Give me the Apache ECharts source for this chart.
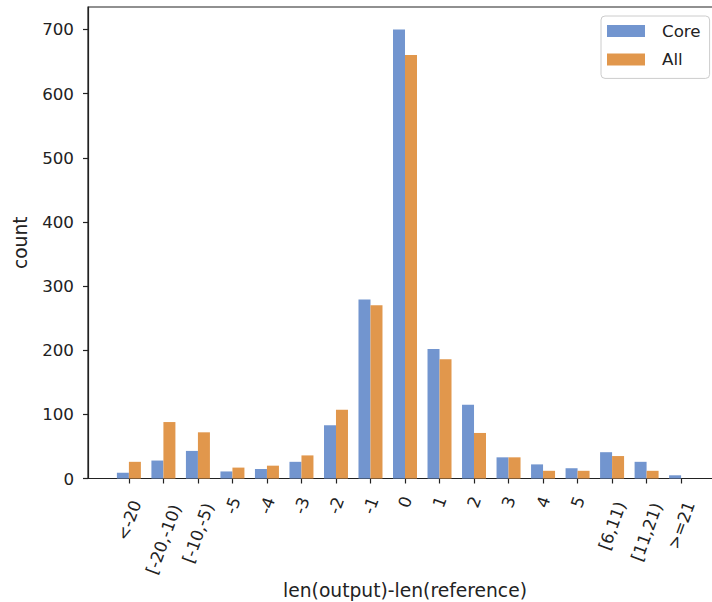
<!DOCTYPE html>
<html>
<head>
<meta charset="utf-8">
<script src="https://cdn.jsdelivr.net/npm/echarts@6/dist/echarts.min.js"></script>
<style>
html,body{margin:0;padding:0;background:#fff;}
#chart{width:712px;height:602px;}
</style>
</head>
<body>
<div id="chart"></div>
<script>
const categories = ["<-20","[-20,-10)","[-10,-5)","-5","-4","-3","-2","-1","0","1","2","3","4","5","[6,11)","[11,21)",">=21"];
const coreValues = [9, 28, 43, 11, 15, 26, 83, 279, 700, 202, 115, 33, 22, 16, 41, 26, 5];
const allValues  = [26, 88, 72, 17, 20, 36, 107, 270, 660, 186, 71, 33, 12, 12, 35, 12, 0];
const yTicks = [0, 100, 200, 300, 400, 500, 600, 700];
const seriesNames = ["Core", "All"];
const xTitle = "len(output)-len(reference)";
const yTitle = "count";

const FONT = '"DejaVu Sans", sans-serif';
const FS = 16.7;      // tick / legend text
const FS_T = 18.7;    // axis titles
const TXT = '#222';
const AX = '#222';

// matplotlib-like x limits: bars span [-0.35, n-1+0.35], plus 5% margins
const half = 0.35;
const span = (categories.length - 1) + 2 * half;
const xMin = -half - 0.05 * span;
const xMax = (categories.length - 1) + half + 0.05 * span;

// rotated tick labels: centre of each label placed below its tick (matplotlib style)
const ctx = document.createElement('canvas').getContext('2d');
ctx.font = FS + 'px ' + FONT;
const rad = 70 * Math.PI / 180;
const lh = 18;
const rich = {};
categories.forEach((c, i) => {
  const L = ctx.measureText(c).width;
  const D = 0.6 * L;                 // downward shift of the label centre
  rich['c' + i] = {
    fontSize: FS, fontFamily: FONT, color: TXT, lineHeight: lh,
    padding: [2 * Math.cos(rad) * D, 2 * Math.sin(rad) * D, 0, 0]
  };
});

const xIdx = categories.map((c, i) => i);
// empty guard labels at both ends so ECharts' min/max label logic hides nothing real
const xLabelVals = [-1].concat(xIdx, [categories.length]);
const chart = echarts.init(document.getElementById('chart'), null, {renderer: 'svg'});
chart.setOption({
  animation: false,
  backgroundColor: '#fff',
  textStyle: {fontFamily: FONT},
  grid: {left: 88, top: 7, width: 634, height: 471.5, show: true, borderColor: AX, borderWidth: 1.2,
         backgroundColor: 'transparent', containLabel: false, outerBoundsMode: 'none'},
  legend: {
    orient: 'vertical', left: 601, top: 16,
    data: seriesNames,
    icon: 'rect', itemWidth: 38, itemHeight: 12, itemGap: 10.4,
    padding: [6, 9, 10, 6],
    backgroundColor: 'rgba(255,255,255,0.8)', borderColor: '#cccccc', borderWidth: 1, borderRadius: 4,
    textStyle: {fontSize: FS, fontFamily: FONT, color: TXT, lineHeight: 18, padding: [0, 0, 0, 12]}
  },
  xAxis: {
    type: 'value', min: xMin, max: xMax,
    name: xTitle, nameLocation: 'middle', nameGap: 101.5, nameMoveOverlap: false,
    nameTextStyle: {fontSize: FS_T, fontFamily: FONT, color: TXT, lineHeight: 20},
    splitLine: {show: false},
    axisLine: {show: true, onZero: false, lineStyle: {color: AX, width: 1.2}},
    axisTick: {show: true, length: 5, lineStyle: {color: AX, width: 1.2}, customValues: xIdx},
    axisLabel: {
      customValues: xLabelVals, rotate: 70, margin: 17, align: 'center', verticalAlign: 'middle',
      hideOverlap: false,
      formatter: v => {
        const i = Math.round(v);
        return (i >= 0 && i < categories.length) ? '{c' + i + '|' + categories[i] + '}' : '';
      },
      rich: rich
    }
  },
  yAxis: {
    type: 'value', min: 0, max: 735,
    name: yTitle, nameLocation: 'middle', nameGap: 58, nameRotate: 90, nameMoveOverlap: false,
    nameTextStyle: {fontSize: FS_T, fontFamily: FONT, color: TXT},
    splitLine: {show: false},
    axisLine: {show: true, onZero: false, lineStyle: {color: AX, width: 1.2}},
    axisTick: {show: true, length: 5, lineStyle: {color: AX, width: 1.2}, customValues: yTicks},
    axisLabel: {customValues: yTicks, fontSize: FS, fontFamily: FONT, color: TXT, margin: 14}
  },
  series: [
    {name: seriesNames[0], type: 'bar', barWidth: 12, barGap: '0%',
     itemStyle: {color: '#7295cf'},
     data: coreValues.map((v, i) => [i, v])},
    {name: seriesNames[1], type: 'bar', barWidth: 12, barGap: '0%',
     itemStyle: {color: '#e1974c'},
     data: allValues.map((v, i) => [i, v])}
  ]
});
</script>
</body>
</html>
